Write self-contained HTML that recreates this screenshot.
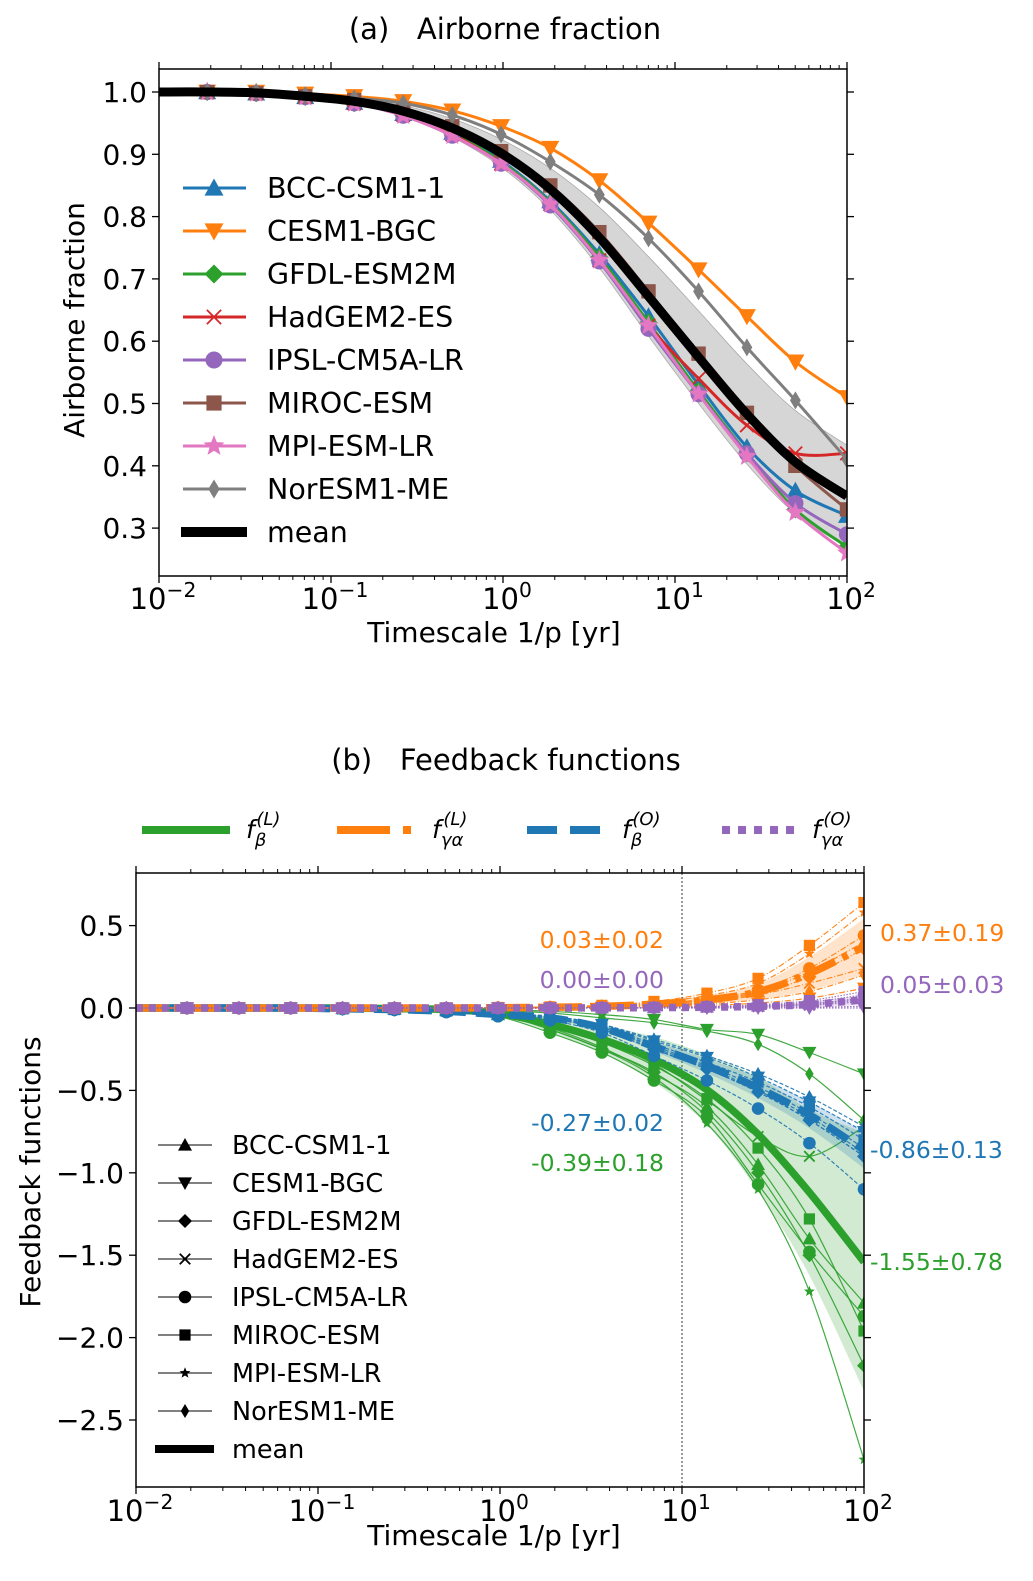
<!DOCTYPE html>
<html><head><meta charset="utf-8">
<style>
html,body{margin:0;padding:0;background:#fff;}
svg{display:block;font-family:"DejaVu Sans","Liberation Sans",sans-serif;}
</style></head>
<body>
<svg id="fig" width="1033" height="1581" viewBox="0 0 1033 1581" xmlns="http://www.w3.org/2000/svg">
<defs>
<clipPath id="clipA"><rect x="159" y="69" width="688" height="507"/></clipPath>
<clipPath id="clipB"><rect x="136" y="873" width="728" height="614"/></clipPath>
</defs>
<g id="panelA"></g>
<g id="panelB"></g>
</svg>
<script>
// ---------- DATA ----------
const logTimescales = [-1.72,-1.435,-1.15,-0.865,-0.58,-0.295,-0.011,0.275,0.56,0.846,1.137,1.418,1.70,2.0];
const models = ["BCC-CSM1-1","CESM1-BGC","GFDL-ESM2M","HadGEM2-ES","IPSL-CM5A-LR","MIROC-ESM","MPI-ESM-LR","NorESM1-ME"];
const markerShapes = ["^","v","D","x","o","s","*","d"];
const modelColors = ["#1f77b4","#ff7f0e","#2ca02c","#d62728","#9467bd","#8c564b","#e377c2","#7f7f7f"];

// Panel (a) airborne fraction
const afBCC    = [1.0,0.998,0.992,0.983,0.965,0.935,0.89,0.825,0.74,0.64,0.53,0.43,0.36,0.32];
const afCESM   = [1.0,1.0,0.997,0.993,0.985,0.97,0.945,0.91,0.858,0.79,0.715,0.64,0.567,0.51];
const afGFDL   = [1.0,0.998,0.992,0.982,0.963,0.933,0.888,0.822,0.735,0.63,0.52,0.42,0.33,0.27];
const afHadGEM = [1.0,0.998,0.992,0.982,0.963,0.932,0.885,0.82,0.73,0.625,0.54,0.465,0.42,0.42];
const afIPSL   = [1.0,0.998,0.992,0.982,0.962,0.93,0.885,0.818,0.728,0.62,0.515,0.42,0.34,0.29];
const afMIROC  = [1.0,0.998,0.993,0.987,0.972,0.945,0.905,0.85,0.775,0.68,0.58,0.485,0.40,0.33];
const afMPI    = [1.0,0.998,0.992,0.982,0.962,0.93,0.885,0.82,0.73,0.625,0.515,0.415,0.325,0.26];
const afNorESM = [1.0,1.0,0.995,0.99,0.982,0.963,0.932,0.888,0.835,0.765,0.68,0.59,0.505,0.41];
const airborneSeries = [afBCC,afCESM,afGFDL,afHadGEM,afIPSL,afMIROC,afMPI,afNorESM];
const afYTicks = [0.3,0.4,0.5,0.6,0.7,0.8,0.9,1.0];
const xTickExps = [-2,-1,0,1,2];

// Panel (b): land beta (green)
const fbL_BCC    = [0,0,0,0,-0.005,-0.01,-0.04,-0.12,-0.24,-0.40,-0.60,-0.95,-1.40,-1.79];
const fbL_CESM   = [0,0,0,0,0,-0.005,-0.01,-0.02,-0.04,-0.07,-0.13,-0.16,-0.27,-0.40];
const fbL_GFDL   = [0,0,0,0,-0.005,-0.01,-0.04,-0.13,-0.25,-0.39,-0.63,-1.00,-1.50,-2.17];
const fbL_HadGEM = [0,0,0,0,-0.005,-0.01,-0.03,-0.10,-0.20,-0.34,-0.56,-0.78,-0.90,-0.72];
const fbL_IPSL   = [0,0,0,0,-0.005,-0.015,-0.05,-0.15,-0.27,-0.44,-0.66,-1.07,-1.48,-1.87];
const fbL_MIROC  = [0,0,0,0,-0.005,-0.01,-0.035,-0.11,-0.21,-0.35,-0.55,-0.85,-1.28,-1.96];
const fbL_MPI    = [0,0,0,0,-0.005,-0.01,-0.04,-0.13,-0.25,-0.42,-0.70,-1.10,-1.72,-2.74];
const fbL_NorESM = [0,0,0,0,0,-0.005,-0.015,-0.03,-0.06,-0.09,-0.14,-0.22,-0.40,-0.68];
// ocean beta (blue)
const fbO_BCC    = [0,0,0,-0.004,-0.008,-0.016,-0.035,-0.05,-0.10,-0.19,-0.29,-0.40,-0.54,-0.72];
const fbO_CESM   = [0,0,0,-0.004,-0.008,-0.017,-0.035,-0.05,-0.10,-0.20,-0.30,-0.42,-0.57,-0.75];
const fbO_GFDL   = [0,0,0,-0.005,-0.01,-0.02,-0.04,-0.065,-0.13,-0.25,-0.37,-0.51,-0.68,-0.90];
const fbO_HadGEM = [0,0,0,-0.005,-0.01,-0.02,-0.04,-0.06,-0.12,-0.23,-0.35,-0.48,-0.64,-0.85];
const fbO_IPSL   = [0,0,0,-0.006,-0.012,-0.025,-0.05,-0.075,-0.15,-0.29,-0.44,-0.61,-0.82,-1.10];
const fbO_MIROC  = [0,0,0,-0.005,-0.009,-0.018,-0.038,-0.055,-0.11,-0.22,-0.33,-0.45,-0.60,-0.80];
const fbO_MPI    = [0,0,0,-0.005,-0.01,-0.02,-0.04,-0.06,-0.12,-0.24,-0.36,-0.50,-0.66,-0.88];
const fbO_NorESM = [0,0,0,-0.005,-0.01,-0.02,-0.04,-0.065,-0.13,-0.25,-0.37,-0.51,-0.68,-0.90];
// land gamma-alpha (orange)
const fgL_BCC    = [0,0,0,0,0,0,0.002,0.005,0.011,0.024,0.05,0.10,0.22,0.40];
const fgL_CESM   = [0,0,0,0,0,0,0.001,0.002,0.004,0.008,0.016,0.03,0.06,0.12];
const fgL_GFDL   = [0,0,0,0,0,0,0.002,0.004,0.01,0.022,0.045,0.09,0.19,0.36];
const fgL_HadGEM = [0,0,0,0,0,0,0.001,0.003,0.007,0.016,0.035,0.08,0.15,0.24];
const fgL_IPSL   = [0,0,0,0,0,0,0.002,0.005,0.012,0.027,0.055,0.11,0.24,0.44];
const fgL_MIROC  = [0,0,0,0,0,0,0.003,0.007,0.016,0.04,0.09,0.18,0.38,0.64];
const fgL_MPI    = [0,0,0,0,0,0,0.003,0.006,0.014,0.035,0.075,0.15,0.33,0.58];
const fgL_NorESM = [0,0,0,0,0,0,0.001,0.003,0.006,0.013,0.025,0.05,0.10,0.20];
// ocean gamma-alpha (purple)
const fgO_BCC    = [0,0,0,0,0,0,0,0,0.001,0.003,0.006,0.012,0.025,0.06];
const fgO_CESM   = [0,0,0,0,0,0,0,0,0,0,0,0,0,0.0];
const fgO_GFDL   = [0,0,0,0,0,0,0,0,0.001,0.002,0.005,0.01,0.02,0.05];
const fgO_HadGEM = [0,0,0,0,0,0,0,0,0.001,0.002,0.004,0.008,0.016,0.04];
const fgO_IPSL   = [0,0,0,0,0,0,0,0,0.001,0.003,0.007,0.015,0.035,0.08];
const fgO_MIROC  = [0,0,0,0,0,0,0,0.001,0.002,0.004,0.009,0.02,0.045,0.10];
const fgO_MPI    = [0,0,0,0,0,0,0,0,0.001,0.003,0.006,0.012,0.025,0.06];
const fgO_NorESM = [0,0,0,0,0,0,0,0,0,0,0.001,0.002,0.005,0.01];

const fbLand  = [fbL_BCC,fbL_CESM,fbL_GFDL,fbL_HadGEM,fbL_IPSL,fbL_MIROC,fbL_MPI,fbL_NorESM];
const fbOcean = [fbO_BCC,fbO_CESM,fbO_GFDL,fbO_HadGEM,fbO_IPSL,fbO_MIROC,fbO_MPI,fbO_NorESM];
const fgLand  = [fgL_BCC,fgL_CESM,fgL_GFDL,fgL_HadGEM,fgL_IPSL,fgL_MIROC,fgL_MPI,fgL_NorESM];
const fgOcean = [fgO_BCC,fgO_CESM,fgO_GFDL,fgO_HadGEM,fgO_IPSL,fgO_MIROC,fgO_MPI,fgO_NorESM];
const fbYTicks = [0.5,0.0,-0.5,-1.0,-1.5,-2.0,-2.5];
const leftAnnotations  = ["0.03±0.02","0.00±0.00","-0.27±0.02","-0.39±0.18"];
const rightAnnotations = ["0.37±0.19","0.05±0.03","-0.86±0.13","-1.55±0.78"];

// ---------- HELPERS ----------
const NS = "http://www.w3.org/2000/svg";
function el(tag, attrs, parent){ const e=document.createElementNS(NS,tag); for(const k in attrs) e.setAttribute(k,attrs[k]); if(parent) parent.appendChild(e); return e; }
function smooth(pts){
  let d = "M"+pts[0][0].toFixed(2)+","+pts[0][1].toFixed(2);
  for(let i=0;i<pts.length-1;i++){
    const p0=pts[Math.max(0,i-1)], p1=pts[i], p2=pts[i+1], p3=pts[Math.min(pts.length-1,i+2)];
    const c1=[p1[0]+(p2[0]-p0[0])/6, p1[1]+(p2[1]-p0[1])/6];
    const c2=[p2[0]-(p3[0]-p1[0])/6, p2[1]-(p3[1]-p1[1])/6];
    d += " C"+c1[0].toFixed(2)+","+c1[1].toFixed(2)+" "+c2[0].toFixed(2)+","+c2[1].toFixed(2)+" "+p2[0].toFixed(2)+","+p2[1].toFixed(2);
  }
  return d;
}
function marker(shape,x,y,r,color,parent){
  let m;
  if(shape==="o"){ m=el("circle",{cx:x,cy:y,r:r*0.9,fill:color},parent); }
  else if(shape==="s"){ m=el("rect",{x:x-r*0.8,y:y-r*0.8,width:r*1.6,height:r*1.6,fill:color},parent); }
  else if(shape==="^"){ m=el("polygon",{points:`${x},${y-r} ${x+r},${y+r*0.8} ${x-r},${y+r*0.8}`,fill:color},parent); }
  else if(shape==="v"){ m=el("polygon",{points:`${x},${y+r} ${x+r},${y-r*0.8} ${x-r},${y-r*0.8}`,fill:color},parent); }
  else if(shape==="D"){ m=el("polygon",{points:`${x},${y-r} ${x+r},${y} ${x},${y+r} ${x-r},${y}`,fill:color},parent); }
  else if(shape==="d"){ m=el("polygon",{points:`${x},${y-r} ${x+r*0.6},${y} ${x},${y+r} ${x-r*0.6},${y}`,fill:color},parent); }
  else if(shape==="x"){ const k=r*0.75; m=el("path",{d:`M${x-k},${y-k}L${x+k},${y+k}M${x-k},${y+k}L${x+k},${y-k}`,stroke:color,"stroke-width":1.8,fill:"none"},parent); }
  else if(shape==="*"){ let p=[]; for(let i=0;i<10;i++){ const a=-Math.PI/2+i*Math.PI/5, rr=(i%2?r*0.45:r*1.05); p.push((x+rr*Math.cos(a)).toFixed(2)+","+(y+rr*Math.sin(a)).toFixed(2)); } m=el("polygon",{points:p.join(" "),fill:color},parent); }
  return m;
}
function meanOf(series){ return series[0].map((_,i)=>series.reduce((s,a)=>s+a[i],0)/series.length); }
function stdOf(series,mean){ return series[0].map((_,i)=>Math.sqrt(series.reduce((s,a)=>s+(a[i]-mean[i])**2,0)/series.length)); }
function powLabel(parent,x,y,exp,size){
  const t=el("text",{x:x,y:y,"text-anchor":"middle","font-size":size,fill:"#000"},parent);
  t.appendChild(document.createTextNode("10"));
  const s=el("tspan",{"font-size":size*0.7,dy:-size*0.42},t);
  s.textContent=(exp<0?"−":"")+Math.abs(exp);
  return t;
}
function logTicks(g,X,yAxis,dir){
  for(let d=-2; d<=2; d++){
    const x=X(d);
    const t=el("line",{x1:x,x2:x,y1:yAxis,y2:yAxis+dir*7,stroke:"#000","stroke-width":1.3},g);
    
    
    if(d<2){ for(let k=2;k<=9;k++){ const xm=X(d+Math.log10(k));
      const mt=el("line",{x1:xm,x2:xm,y1:yAxis,y2:yAxis+dir*4,stroke:"#000","stroke-width":1},g);
      
       } }
  }
}

// ---------- PANEL A ----------
(function(){
  const g=document.getElementById("panelA");
  const L=159,R=847,T=69,B=576;
  const X=l=>L+(l+2)*172, Y=v=>92+(1-v)*623;
  const title=el("text",{x:505,y:39,"text-anchor":"middle","font-size":29},g);
  title.textContent="(a)\u00a0\u00a0\u00a0Airborne fraction";
  
  
  const plot=el("g",{"clip-path":"url(#clipA)"},g);
  
  
  const mean=meanOf(airborneSeries), sd=stdOf(airborneSeries,mean);
  const lx=[-2].concat(logTimescales);
  const up=lx.map((l,i)=>[X(l),Y((i?mean[i-1]+sd[i-1]:1))]);
  const lo=lx.map((l,i)=>[X(l),Y((i?mean[i-1]-sd[i-1]:1))]).reverse();
  const band=el("path",{d:smooth(up)+" L"+smooth(lo).slice(1)+" Z",fill:"#c8c8c8","fill-opacity":0.75,stroke:"#aaa","stroke-width":0.8},plot);
  
  
  airborneSeries.forEach((s,mi)=>{
    const pts=[[X(-2),Y(s[0])]].concat(s.map((v,i)=>[X(logTimescales[i]),Y(v)]));
    const p=el("path",{d:smooth(pts),fill:"none",stroke:modelColors[mi],"stroke-width":3},plot);
    
    
    s.forEach((v,i)=>{ const m=marker(markerShapes[mi],X(logTimescales[i]),Y(v),mi===6?10:9,modelColors[mi],plot);
      
       });
  });
  const mp=[[X(-2),Y(1)]].concat(mean.map((v,i)=>[X(logTimescales[i]),Y(v)]));
  const ml=el("path",{d:smooth(mp),fill:"none",stroke:"#000","stroke-width":9},plot);
  
  
  const frame=el("rect",{x:L,y:T,width:R-L,height:B-T,fill:"none",stroke:"#000","stroke-width":1.5},g);
  
  
  logTicks(g,X,B,1); logTicks(g,X,T,-1);
  xTickExps.forEach(e=>{ const t=powLabel(g,X(e)+4,609,e,29);
    
     });
  afYTicks.forEach(v=>{
    el("line",{x1:L,x2:L-7,y1:Y(v),y2:Y(v),stroke:"#000","stroke-width":1.3},g);
    el("line",{x1:R,x2:R+7,y1:Y(v),y2:Y(v),stroke:"#000","stroke-width":1.3},g);
    const t=el("text",{x:L-12,y:Y(v)+10,"text-anchor":"end","font-size":28},g);
    t.textContent=v.toFixed(1);
    
    
  });
  const xl=el("text",{x:494,y:642,"text-anchor":"middle","font-size":28},g);
  xl.textContent="Timescale 1/p [yr]";
  
  
  const yl=el("text",{x:0,y:0,"text-anchor":"middle","font-size":28,transform:"translate(84,320) rotate(-90)"},g);
  yl.textContent="Airborne fraction";
  
  
  const leg=el("g",{},g);
  
  
  models.concat(["mean"]).forEach((n,i)=>{
    const y=188+43*i;
    const e=el("g",{},leg);
    
    
    if(i<8){ el("line",{x1:183,x2:246,y1:y,y2:y,stroke:modelColors[i],"stroke-width":3},e); marker(markerShapes[i],214,y,i===6?10.5:9.5,modelColors[i],e); }
    else el("line",{x1:181,x2:247,y1:y,y2:y,stroke:"#000","stroke-width":10},e);
    const t=el("text",{x:267,y:y+10,"font-size":28.5},e); t.textContent=n;
  });
})();

// ---------- PANEL B ----------
(function(){
  const g=document.getElementById("panelB");
  const L=136,R=864,T=873,B=1487;
  const X=l=>L+(l+2)*182, Y=v=>1008-v*164.8;
  const title=el("text",{x:506,y:770,"text-anchor":"middle","font-size":29},g);
  title.textContent="(b)\u00a0\u00a0\u00a0Feedback functions";
  
  
  const plot=el("g",{"clip-path":"url(#clipB)"},g);
  
  
  const vline=el("line",{x1:X(1),x2:X(1),y1:T,y2:B,stroke:"#333","stroke-width":1,"stroke-dasharray":"2,2"},plot);
  
  
  const groups=[
    {name:"land-beta",data:fbLand,color:"#2ca02c",band:"#2ca02c",dash:"none",dashThick:"none"},
    {name:"ocean-beta",data:fbOcean,color:"#1f77b4",band:"#1f77b4",dash:"4,2",dashThick:"24,10"},
    {name:"land-gamma-alpha",data:fgLand,color:"#ff7f0e",band:"#ff7f0e",dash:"6,2,1,2",dashThick:"30,8,6,8"},
    {name:"ocean-gamma-alpha",data:fgOcean,color:"#9467bd",band:"#9467bd",dash:"1.5,1.5",dashThick:"7,6"}
  ];
  groups.forEach(G=>{
    const mean=meanOf(G.data), sd=stdOf(G.data,mean);
    const lx=[-2].concat(logTimescales);
    const up=lx.map((l,i)=>[X(l),Y(i?mean[i-1]+sd[i-1]:0)]);
    const lo=lx.map((l,i)=>[X(l),Y(i?mean[i-1]-sd[i-1]:0)]).reverse();
    const band=el("path",{d:smooth(up)+" L"+smooth(lo).slice(1)+" Z",fill:G.band,"fill-opacity":0.22,stroke:"none"},plot);
    
    
    G.data.forEach((s,mi)=>{
      const pts=[[X(-2),Y(0)]].concat(s.map((v,i)=>[X(logTimescales[i]),Y(v)]));
      const p=el("path",{d:smooth(pts),fill:"none",stroke:G.color,"stroke-width":1.2,"stroke-dasharray":G.dash,"stroke-opacity":0.9},plot);
      
      
      s.forEach((v,i)=>{ const m=marker(markerShapes[mi],X(logTimescales[i]),Y(v),mi===6?5.5:7,G.color,plot);
        
         });
    });
    const mp=[[X(-2),Y(0)]].concat(mean.map((v,i)=>[X(logTimescales[i]),Y(v)]));
    const ml=el("path",{d:smooth(mp),fill:"none",stroke:G.color,"stroke-width":7.5,"stroke-dasharray":G.dashThick},plot);
    
    
  });
  const frame=el("rect",{x:L,y:T,width:R-L,height:B-T,fill:"none",stroke:"#000","stroke-width":1.5},g);
  
  
  logTicks(g,X,B,1); logTicks(g,X,T,-1);
  xTickExps.forEach(e=>{ const t=powLabel(g,X(e)+4,1521,e,29);
    
     });
  fbYTicks.forEach(v=>{
    el("line",{x1:L,x2:L-7,y1:Y(v),y2:Y(v),stroke:"#000","stroke-width":1.3},g);
    el("line",{x1:R,x2:R+7,y1:Y(v),y2:Y(v),stroke:"#000","stroke-width":1.3},g);
    const t=el("text",{x:L-12,y:Y(v)+10,"text-anchor":"end","font-size":28},g);
    t.textContent=(v<0?"−":"")+Math.abs(v).toFixed(1);
    
    
  });
  const xl=el("text",{x:494,y:1545,"text-anchor":"middle","font-size":28},g);
  xl.textContent="Timescale 1/p [yr]";
  
  
  const yl=el("text",{x:0,y:0,"text-anchor":"middle","font-size":28,transform:"translate(40,1172) rotate(-90)"},g);
  yl.textContent="Feedback functions";
  
  
  const annColors=["#ff7f0e","#9467bd","#1f77b4","#2ca02c"];
  const leftY=[940,980,1123,1163], rightY=[933,985,1150,1262];
  leftAnnotations.forEach((s,i)=>{ const t=el("text",{x:664,y:leftY[i]+8,"text-anchor":"end","font-size":23.5,fill:annColors[i]},g); t.textContent=s;
    
     });
  rightAnnotations.forEach((s,i)=>{ const t=el("text",{x:i<2?880:870,y:rightY[i]+8,"font-size":23.5,fill:annColors[i]},g); t.textContent=s;
    
     });
  const tl=el("g",{},g);
  
  
  const tlItems=[[142,230,"#2ca02c","none","β","L"],[337,411,"#ff7f0e","53,13,8,13","γα","L"],[527,601,"#1f77b4","30,13","β","O"],[722,795,"#9467bd","8,8","γα","O"]];
  const tlLabelX=[246,432,622,812];
  tlItems.forEach((it,i)=>{
    const e=el("g",{},tl);
    
    
    el("line",{x1:it[0],x2:it[1],y1:830,y2:830,stroke:it[2],"stroke-width":8,"stroke-dasharray":it[3]},e);
    const t=el("text",{x:tlLabelX[i],y:838,"font-size":25,"font-style":"italic"},e);
    t.appendChild(document.createTextNode("f"));
    const sub=el("tspan",{"font-size":18,dy:8},t); sub.textContent=it[4];
    const sup=el("tspan",{"font-size":18,dy:-21,dx:-(it[4].length*10)},t); sup.textContent="("+it[5]+")";
  });
  const leg=el("g",{},g);
  
  
  models.concat(["mean"]).forEach((n,i)=>{
    const y=1449-38*(8-i);
    const e=el("g",{},leg);
    
    
    if(i<8){ el("line",{x1:158,x2:212,y1:y,y2:y,stroke:"#000","stroke-width":1},e); marker(markerShapes[i],185,y,i===6?5.5:7,"#000",e); }
    else el("line",{x1:155,x2:214,y1:y,y2:y,stroke:"#000","stroke-width":8},e);
    const t=el("text",{x:232,y:y+9,"font-size":25.5},e); t.textContent=n;
  });
})();
</script>
</body></html>
